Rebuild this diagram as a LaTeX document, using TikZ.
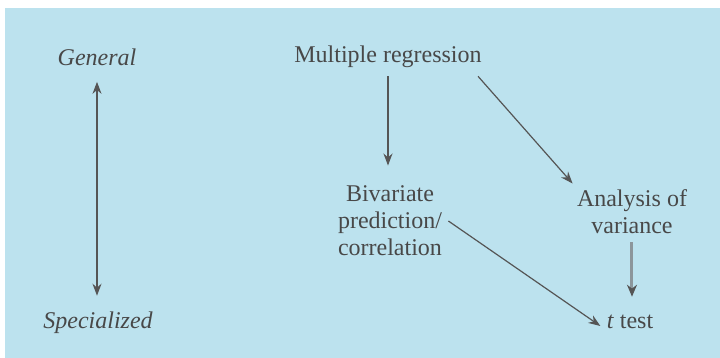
\documentclass[tikz,border=0pt]{standalone}
\usepackage{fontspec}
\setmainfont{Liberation Serif}
\usetikzlibrary{arrows.meta}
\definecolor{bgblue}{RGB}{188,226,238}
\definecolor{txtgray}{RGB}{72,72,72}
\definecolor{linegray}{RGB}{85,85,85}
\definecolor{lightline}{RGB}{140,150,155}
\tikzset{
  lbl/.style={font=\fontsize{12}{13.5}\selectfont, text=txtgray, align=center, inner sep=0pt},
  conn/.style={draw=linegray, line width=0.6pt, -{Stealth[length=6pt,width=4.5pt]}},
  biconn/.style={draw=linegray, line width=0.6pt, {Stealth[length=6pt,width=4.5pt]}-{Stealth[length=6pt,width=4.5pt]}},
  thickconn/.style={draw=lightline, line width=1.5pt, -{Stealth[length=6pt,width=5pt,color=linegray]}}
}
\begin{document}
\begin{tikzpicture}[x=0.5pt,y=-0.5pt]
\useasboundingbox (0,0) rectangle (720,358);
\fill[white] (0,0) rectangle (720,358);
\fill[bgblue] (5,8) rectangle (720,358);

\node[lbl, font=\fontsize{12}{13.5}\selectfont\itshape] (gen) at (97,57) {General};
\node[lbl, font=\fontsize{12}{13.5}\selectfont\itshape] (spec) at (98,323) {Specialized};
\node[lbl] (mr) at (388,57) {Multiple regression};
\node[lbl] (biv) at (390,221) {Bivariate\\prediction/\\correlation};
\node[lbl] (anova) at (632,212) {Analysis of\\variance};
\node[lbl] (tt) at (630,322) {\textit{t} test};

\draw[biconn] ([yshift=-8pt]gen.south) -- ([yshift=8pt]gen.south |- spec.north);
\draw[conn] ([yshift=-4pt]mr.south) -- ([yshift=10pt]mr.south |- biv.north);
\draw[conn] ([shift={(-2pt,-4pt)}]mr.south east) -- ([shift={(-2pt,3pt)}]anova.north west);
\draw[conn] ([xshift=3pt]biv.east) -- ([shift={(-3pt,-2pt)}]tt.west);
\draw[thickconn] ([yshift=-4pt]anova.south) -- ([yshift=9pt]anova.south |- tt.north);
\end{tikzpicture}
\end{document}
